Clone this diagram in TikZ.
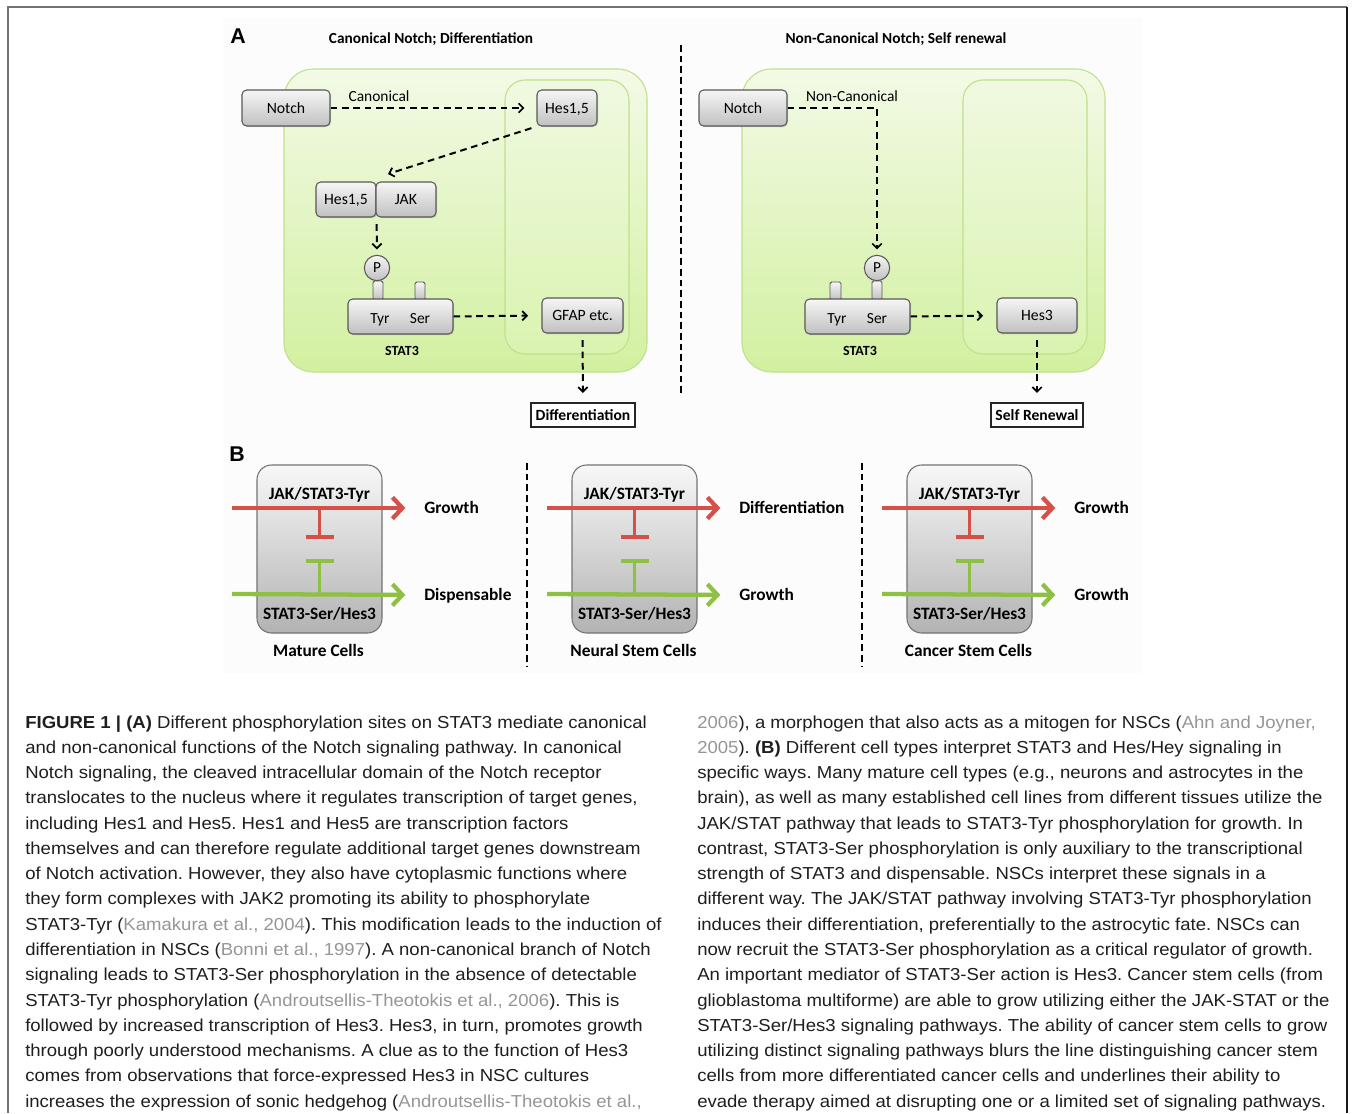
\documentclass[tikz,border=0pt]{standalone}
\usepackage{fontspec}
\setmainfont{Liberation Sans}
\newfontfamily\capfont[FakeStretch=1.07]{Liberation Sans}
\newfontfamily\dfont{Carlito}
\usetikzlibrary{arrows.meta,shadows}
\definecolor{cellT}{RGB}{243,250,230}
\definecolor{cellB}{RGB}{210,240,160}
\definecolor{cellborder}{RGB}{192,224,140}
\definecolor{nucT}{RGB}{240,249,225}
\definecolor{nucB}{RGB}{218,243,176}
\definecolor{boxT}{RGB}{246,246,246}
\definecolor{boxB}{RGB}{192,192,192}
\definecolor{boxline}{RGB}{88,88,88}
\definecolor{redP}{RGB}{214,80,74}
\definecolor{greenP}{RGB}{141,192,67}
\definecolor{citegray}{RGB}{150,150,150}
\definecolor{captxt}{RGB}{30,30,30}
\newcommand{\cg}[1]{\textcolor{citegray}{#1}}
\newcommand{\BCell}[5]{%
  \node[bcellbox] (#1) at (#2,549) {};
  \node[bt] (#1tyr) at (#2,494) {JAK/STAT3-Tyr};
  \node[bt] (#1ser) at (#2,614) {STAT3-Ser/Hes3};
  \node[bt] (#1lab) at (#2-1,651) {#5};
  \node[bt,anchor=west] (#1up) at (#2+104.5,508) {#3};
  \node[bt,anchor=west] (#1dn) at (#2+104.5,595) {#4};
  \coordinate (#1rs) at (#2-87.5,508);
  \coordinate (#1gs) at (#2-87.5,594);
  \coordinate (#1ri) at (#2,508);
  \coordinate (#1re) at (#2,539);
  \coordinate (#1gi) at (#2,594);
  \coordinate (#1ge) at (#2,559);
  \draw[redP,bline] (#1rs) -- (#1up.west);
  \draw[greenP,bline] (#1gs) -- (#1dn.west);
  \draw[redP,inh] (#1ri) -- (#1re);
  \draw[greenP,inh] (#1gi) -- (#1ge);
}
\begin{document}
\frenchspacing
\begin{tikzpicture}[x=0.75pt,y=-0.75pt,
  gbox/.style={draw=boxline,line width=0.8pt,rounded corners=3.5pt,top color=boxT,bottom color=boxB,inner sep=0pt,
    text height=7.6pt,text depth=0pt,
    font=\dfont\fontsize{11.8}{13}\selectfont,drop shadow={shadow xshift=0.8pt,shadow yshift=-0.8pt,opacity=0.3}},
  pcirc/.style={circle,draw=boxline,line width=0.8pt,top color=boxT,bottom color=boxB,inner sep=0pt,minimum size=19pt,
    font=\dfont\fontsize{11.5}{13}\selectfont},
  stem/.style={draw=boxline,line width=0.7pt,top color=boxT,bottom color=boxB,rounded corners=1.2pt},
  wbox/.style={draw=black!85,line width=1.1pt,fill=white,inner sep=0pt,text height=7.5pt,text depth=0pt,
    font=\dfont\bfseries\fontsize{11.7}{13}\selectfont},
  dasharrow/.style={line width=1.5pt,dash pattern=on 5pt off 3.5pt,-{Straight Barb[length=3.5pt,width=7pt,line width=1.3pt]}},
  sepline/.style={line width=1.5pt,dash pattern=on 5pt off 3pt},
  dtxt/.style={font=\dfont\fontsize{11.6}{13}\selectfont,inner sep=0pt,text height=7.5pt,text depth=0pt},
  ttl/.style={font=\dfont\bfseries\fontsize{11.5}{13}\selectfont,inner sep=0pt,text height=7.4pt,text depth=0pt},
  bt/.style={font=\dfont\bfseries\fontsize{13}{15}\selectfont,inner sep=0pt,text height=8.4pt,text depth=0pt},
  cell/.style={draw=cellborder,line width=0.8pt,rounded corners=22pt,top color=cellT,bottom color=cellB},
  nuc/.style={draw=cellborder,line width=0.8pt,rounded corners=15pt,top color=nucT,bottom color=nucB},
  bcellbox/.style={draw=black!55,line width=0.8pt,rounded corners=11pt,top color=black!3,bottom color=black!30,
    minimum width=93.75pt,minimum height=126pt,inner sep=0pt},
  bline/.style={line width=3.2pt,shorten >=14pt,-{Straight Barb[length=7.5pt,width=16pt,line width=3.2pt]}},
  inh/.style={line width=2.6pt,-{Bar[width=21pt,line width=3pt]}},
  capline/.style={anchor=base west,inner sep=0pt,text=captxt,font=\capfont\fontsize{13}{15}\selectfont},
  letter/.style={font=\bfseries\fontsize{16}{18}\selectfont,inner sep=0pt}
]
\useasboundingbox (0,0) rectangle (1355,1113);
\fill[white] (0,0) rectangle (1355,1113);
% frame
\draw[black!55,line width=1.6pt] (8,1113) -- (8,7) -- (1347,7);
\draw[black!90,line width=1.8pt] (1347,7) -- (1347,1113);
\fill[black!1] (223,18) rectangle (1142,673);

% ================= Panel A =================
\node[letter] (labA) at (238,36) {A};
\node[ttl] (ttlL) at (431,39) {Canonical Notch; Differentiation};
\node[ttl] (ttlR) at (896,39) {Non-Canonical Notch; Self renewal};
\coordinate (sepAt) at (681,45);
\coordinate (sepAb) at (681,393);
\draw[sepline] (sepAt) -- (sepAb);

% left cell
\node[cell,minimum width=272.25pt,minimum height=227.25pt] (cellL) at (465.5,220.5) {};
\node[nuc,minimum width=93pt,minimum height=205.5pt] (nucL) at (567,217) {};
\node[gbox,minimum width=66pt,minimum height=27pt] (notchL) at (286,108) {Notch};
\node[dtxt] (canon) at (379,96) {Canonical};
\node[gbox,minimum width=45pt,minimum height=27pt] (hesTop) at (567,108) {Hes1,5};
\node[gbox,minimum width=45pt,minimum height=26.25pt] (hesL) at (346,199.5) {Hes1,5};
\node[gbox,minimum width=45pt,minimum height=26.25pt] (jakL) at (406,199.5) {JAK};
\draw[stem] (373,281) rectangle (383,300);
\draw[stem] (415,282) rectangle (425,300);
\node[pcirc] (pL) at (377,268) {P};
\node[gbox,minimum width=78.75pt,minimum height=26.25pt] (statL) at (400.5,316.5) {};
\node[dtxt] (tyrL) at (380,318) {Tyr};
\node[dtxt] (serL) at (420,318) {Ser};
\node[ttl,font=\dfont\bfseries\fontsize{10.5}{12}\selectfont,text height=6.8pt] (stat3L) at (402,351) {STAT3};
\node[gbox,minimum width=60.75pt,minimum height=26.25pt] (gfap) at (582.5,315.5) {GFAP etc.};
\node[wbox,minimum width=78pt,minimum height=18pt] (diff) at (583,415) {Differentiation};
\coordinate (c1) at (388,174);
\draw[dasharrow] (notchL.east) -- (hesTop.west) [shorten >=9pt];
\draw[dasharrow,shorten <=4pt] (hesTop.south west) -- (c1);
\draw[dasharrow,shorten <=5pt,shorten >=4pt] (hesL.south east) -- (pL.north);
\draw[dasharrow,shorten >=10pt] (statL.east) -- (gfap.west);
\draw[dasharrow,shorten <=5pt,shorten >=7pt] (gfap.south) -- (diff.north);

% right cell
\node[cell,minimum width=272.25pt,minimum height=227.25pt] (cellR) at (923.5,220.5) {};
\node[nuc,minimum width=93pt,minimum height=205.5pt] (nucR) at (1025,217) {};
\node[gbox,minimum width=66pt,minimum height=27pt] (notchR) at (743,108) {Notch};
\node[dtxt] (noncanon) at (852,96) {Non-Canonical};
\draw[stem] (830,282) rectangle (841,300);
\draw[stem] (872,281) rectangle (882,300);
\node[pcirc] (pR) at (877,268) {P};
\node[gbox,minimum width=78.75pt,minimum height=26.25pt] (statR) at (857.5,316.5) {};
\node[dtxt] (tyrR) at (837,318) {Tyr};
\node[dtxt] (serR) at (877,318) {Ser};
\node[ttl,font=\dfont\bfseries\fontsize{10.5}{12}\selectfont,text height=6.8pt] (stat3R) at (860,351) {STAT3};
\node[gbox,minimum width=60pt,minimum height=26.25pt] (hes3) at (1037,315.5) {Hes3};
\node[wbox,minimum width=69pt,minimum height=18pt] (selfren) at (1037,415) {Self Renewal};
\draw[dasharrow,shorten >=4pt] (notchR.east) -| (pR.north);
\draw[dasharrow,shorten >=10pt] (statR.east) -- (hes3.west);
\draw[dasharrow,shorten <=5pt,shorten >=7pt] (hes3.south) -- (selfren.north);

% ================= Panel B =================
\node[letter] (labB) at (237,454) {B};
\coordinate (sepB1t) at (527,463);
\coordinate (sepB1b) at (527,667);
\coordinate (sepB2t) at (862,463);
\coordinate (sepB2b) at (862,667);
\draw[sepline] (sepB1t) -- (sepB1b);
\draw[sepline] (sepB2t) -- (sepB2b);
\BCell{mc}{319.5}{Growth}{Dispensable}{Mature Cells}
\BCell{ns}{634.5}{Differentiation}{Growth}{Neural Stem Cells}
\BCell{cs}{969.5}{Growth}{Growth}{Cancer Stem Cells}

% ================= Caption =================
\node[capline] (l1) at (25,728) {\textbf{FIGURE 1 | (A)} Different phosphorylation sites on STAT3 mediate canonical};
\node[capline] (l2) at (25,753.3) {and non-canonical functions of the Notch signaling pathway. In canonical};
\node[capline] (l3) at (25,778.5) {Notch signaling, the cleaved intracellular domain of the Notch receptor};
\node[capline] (l4) at (25,803.8) {translocates to the nucleus where it regulates transcription of target genes,};
\node[capline] (l5) at (25,829.1) {including Hes1 and Hes5. Hes1 and Hes5 are transcription factors};
\node[capline] (l6) at (25,854.4) {themselves and can therefore regulate additional target genes downstream};
\node[capline] (l7) at (25,879.6) {of Notch activation. However, they also have cytoplasmic functions where};
\node[capline] (l8) at (25,904.9) {they form complexes with JAK2 promoting its ability to phosphorylate};
\node[capline] (l9) at (25,930.2) {STAT3-Tyr (\cg{Kamakura et al., 2004}). This modification leads to the induction of};
\node[capline] (l10) at (25,955.4) {differentiation in NSCs (\cg{Bonni et al., 1997}). A non-canonical branch of Notch};
\node[capline] (l11) at (25,980.7) {signaling leads to STAT3-Ser phosphorylation in the absence of detectable};
\node[capline] (l12) at (25,1006) {STAT3-Tyr phosphorylation (\cg{Androutsellis-Theotokis et al., 2006}). This is};
\node[capline] (l13) at (25,1031.2) {followed by increased transcription of Hes3. Hes3, in turn, promotes growth};
\node[capline] (l14) at (25,1056.5) {through poorly understood mechanisms. A clue as to the function of Hes3};
\node[capline] (l15) at (25,1081.8) {comes from observations that force-expressed Hes3 in NSC cultures};
\node[capline] (l16) at (25,1107) {increases the expression of sonic hedgehog (\cg{Androutsellis-Theotokis et al.,}};

\node[capline] (r1) at (697,728) {\cg{2006}), a morphogen that also acts as a mitogen for NSCs (\cg{Ahn and Joyner,}};
\node[capline] (r2) at (697,753.3) {\cg{2005}). \textbf{(B)} Different cell types interpret STAT3 and Hes/Hey signaling in};
\node[capline] (r3) at (697,778.5) {specific ways. Many mature cell types (e.g., neurons and astrocytes in the};
\node[capline] (r4) at (697,803.8) {brain), as well as many established cell lines from different tissues utilize the};
\node[capline] (r5) at (697,829.1) {JAK/STAT pathway that leads to STAT3-Tyr phosphorylation for growth. In};
\node[capline] (r6) at (697,854.4) {contrast, STAT3-Ser phosphorylation is only auxiliary to the transcriptional};
\node[capline] (r7) at (697,879.6) {strength of STAT3 and dispensable. NSCs interpret these signals in a};
\node[capline] (r8) at (697,904.9) {different way. The JAK/STAT pathway involving STAT3-Tyr phosphorylation};
\node[capline] (r9) at (697,930.2) {induces their differentiation, preferentially to the astrocytic fate. NSCs can};
\node[capline] (r10) at (697,955.4) {now recruit the STAT3-Ser phosphorylation as a critical regulator of growth.};
\node[capline] (r11) at (697,980.7) {An important mediator of STAT3-Ser action is Hes3. Cancer stem cells (from};
\node[capline] (r12) at (697,1006) {glioblastoma multiforme) are able to grow utilizing either the JAK-STAT or the};
\node[capline] (r13) at (697,1031.2) {STAT3-Ser/Hes3 signaling pathways. The ability of cancer stem cells to grow};
\node[capline] (r14) at (697,1056.5) {utilizing distinct signaling pathways blurs the line distinguishing cancer stem};
\node[capline] (r15) at (697,1081.8) {cells from more differentiated cancer cells and underlines their ability to};
\node[capline] (r16) at (697,1107) {evade therapy aimed at disrupting one or a limited set of signaling pathways.};
\end{tikzpicture}
\end{document}
